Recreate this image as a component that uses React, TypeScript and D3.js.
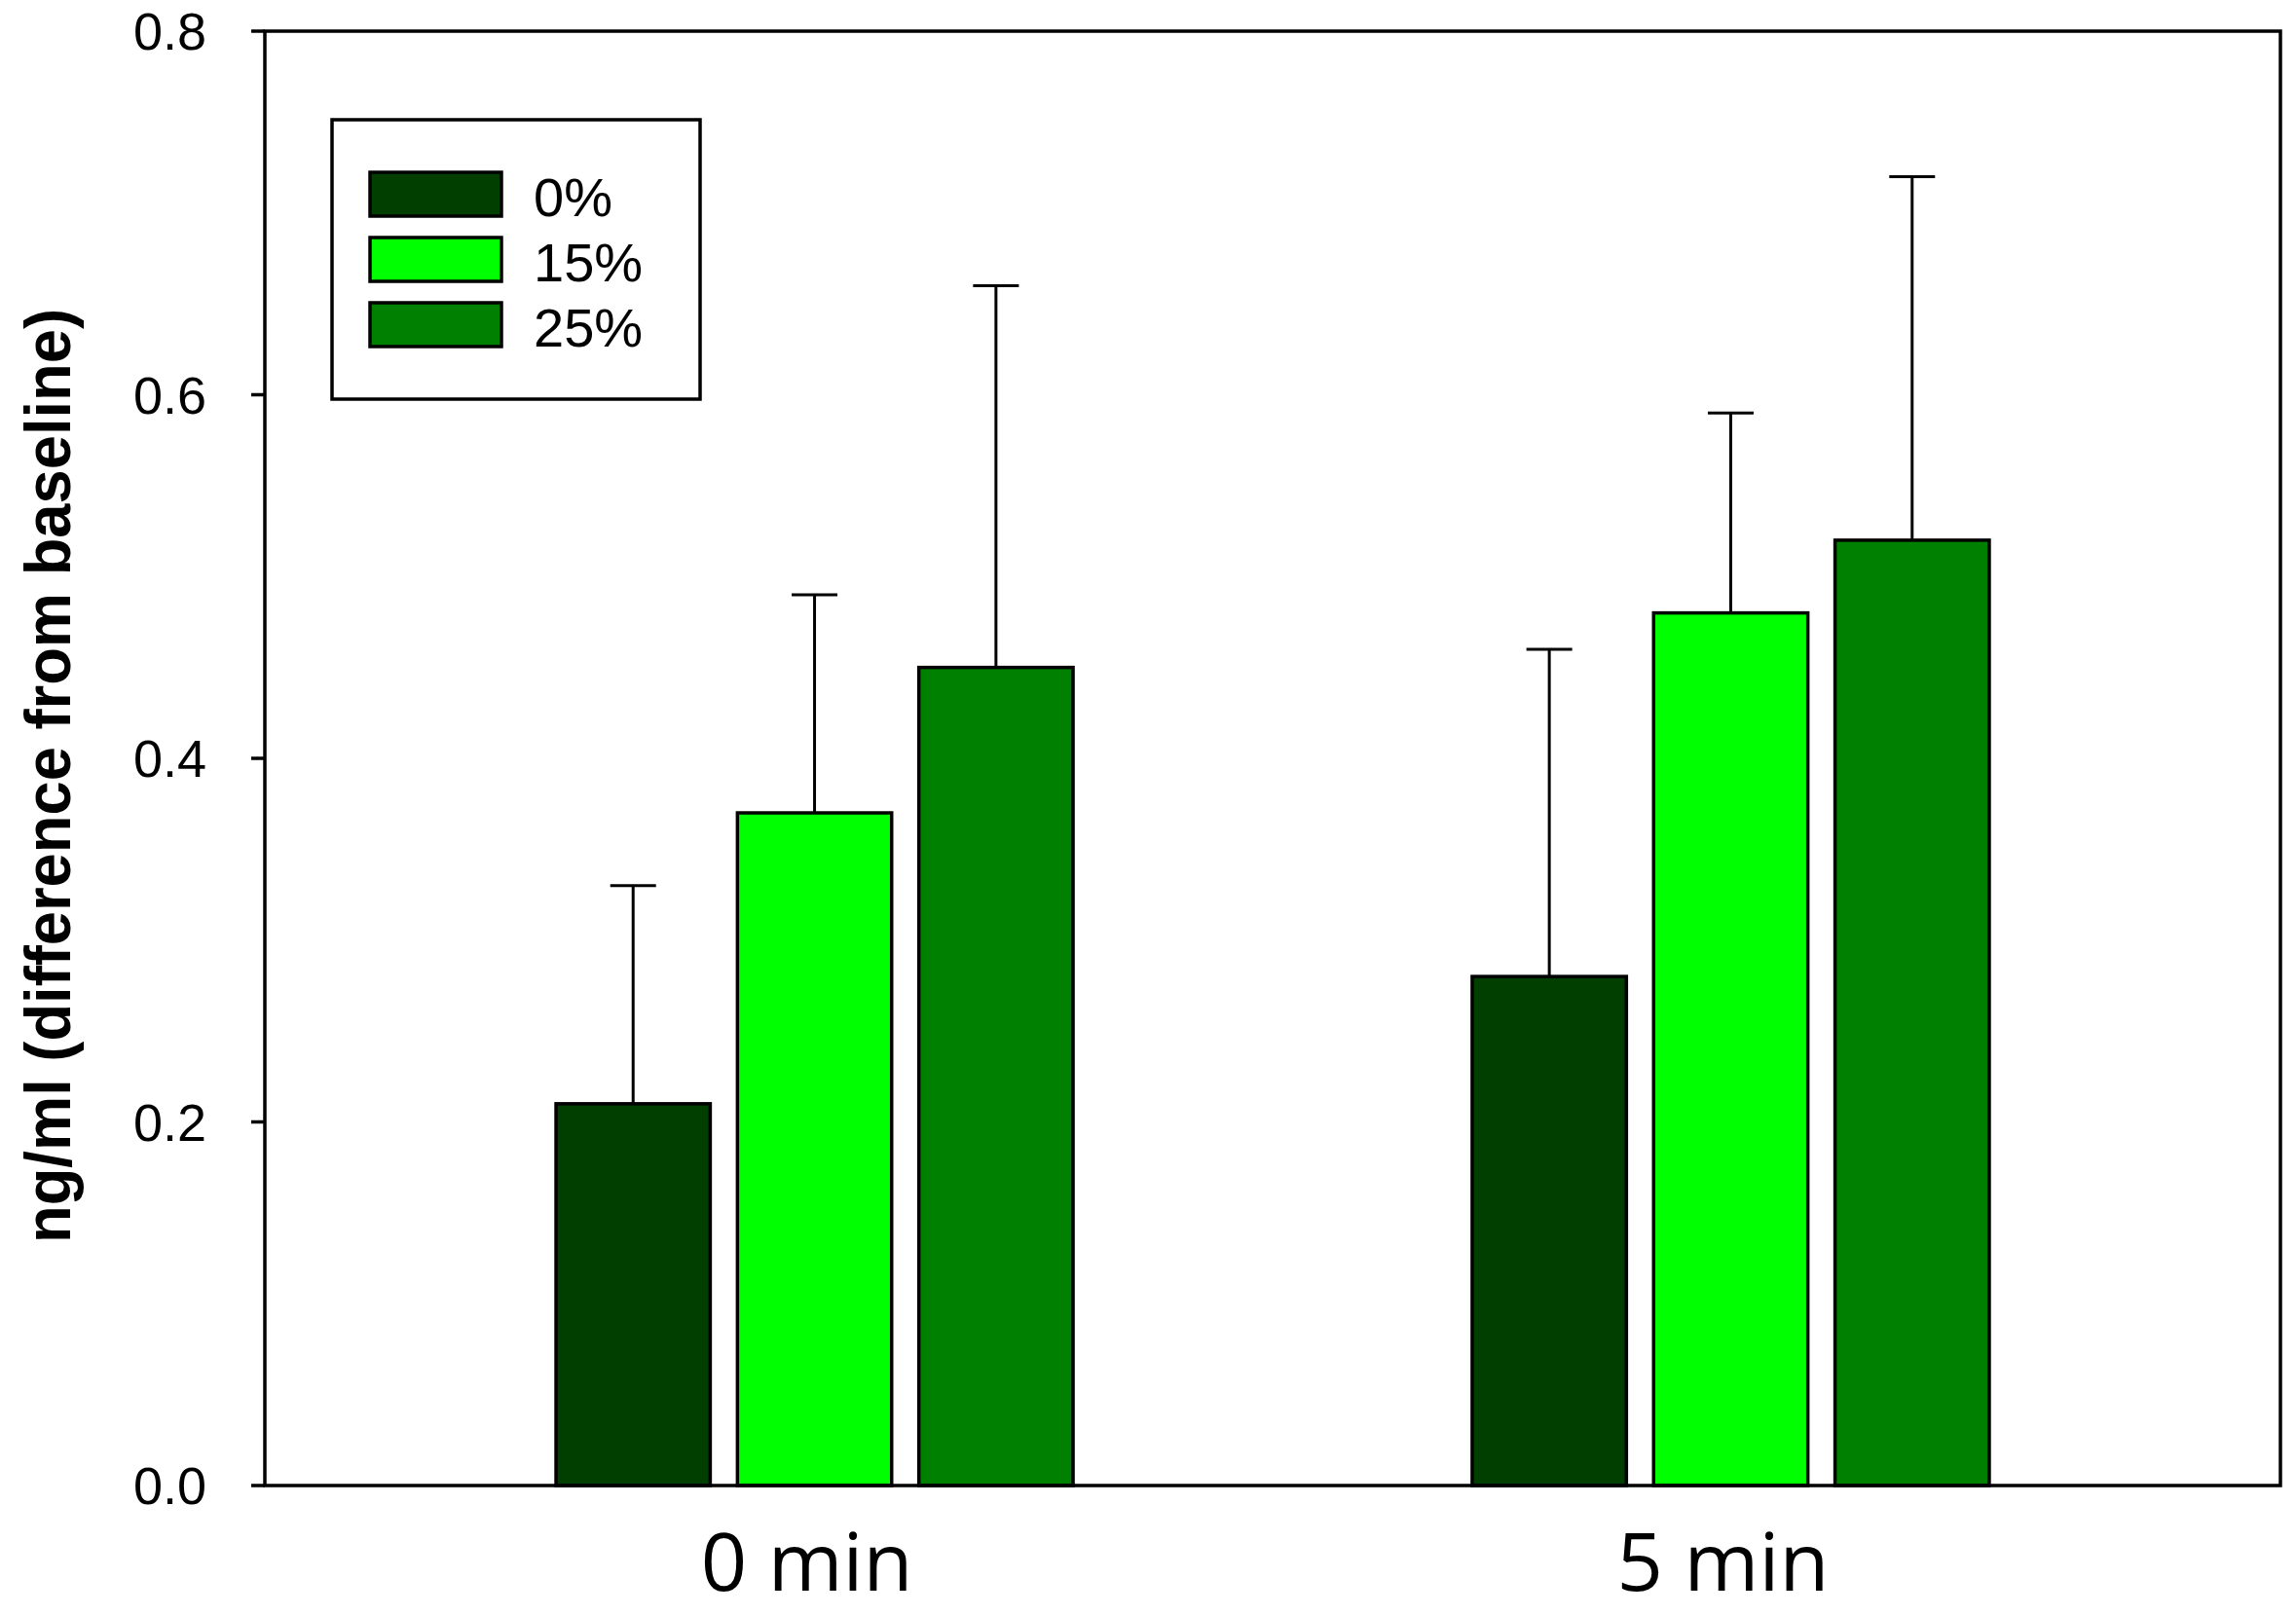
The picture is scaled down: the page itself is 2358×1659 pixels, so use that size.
import { scaleBand, scaleLinear } from "d3";

const categories = ["0 min", "5 min"];
const series = ["0%", "15%", "25%"];
const colors = ["#003f00", "#00ff00", "#008000"];
// mean per series, one value per category
const means = [
  [0.21, 0.28],
  [0.37, 0.48],
  [0.45, 0.52],
];
// upper error bar ends
const upper = [
  [0.33, 0.46],
  [0.49, 0.59],
  [0.66, 0.72],
];
const yTicks = [0, 0.2, 0.4, 0.6, 0.8];

const width = 2358;
const height = 1659;
const plot = { left: 272, right: 2342, top: 32, bottom: 1526 };

export default function App() {
  const yScale = scaleLinear().domain([0, 0.8]).range([plot.bottom, plot.top]);

  const xScale = scaleBand()
    .domain(categories)
    .range([plot.left, plot.right])
    .paddingInner(0)
    .paddingOuter(0.1);

  const xInner = scaleBand()
    .domain(series)
    .range([0, xScale.bandwidth()])
    .paddingInner(0.15)
    .paddingOuter(1.1);

  const bw = xInner.bandwidth();
  const capW = 47;

  return (
    <svg
      width={width}
      height={height}
      style={{ position: "absolute", left: 0, top: 0, background: "#fff" }}
    >
      {/* bars */}
      {series.map((s, si) =>
        categories.map((c, ci) => {
          const x = (xScale(c) ?? 0) + (xInner(s) ?? 0);
          const v = means[si][ci];
          return (
            <rect
              key={s + c}
              x={x}
              y={yScale(v)}
              width={bw}
              height={yScale(0) - yScale(v)}
              fill={colors[si]}
              stroke="#000"
              strokeWidth={3.5}
            />
          );
        })
      )}

      {/* error bars (upper only) */}
      {series.map((s, si) =>
        categories.map((c, ci) => {
          const cx = (xScale(c) ?? 0) + (xInner(s) ?? 0) + bw / 2;
          return (
            <g key={"e" + s + c} stroke="#000" strokeWidth={3}>
              <line x1={cx} x2={cx} y1={yScale(means[si][ci])} y2={yScale(upper[si][ci])} />
              <line
                x1={cx - capW / 2}
                x2={cx + capW / 2}
                y1={yScale(upper[si][ci])}
                y2={yScale(upper[si][ci])}
              />
            </g>
          );
        })
      )}

      {/* frame */}
      <rect
        x={plot.left}
        y={plot.top}
        width={plot.right - plot.left}
        height={plot.bottom - plot.top}
        fill="none"
        stroke="#000"
        strokeWidth={3.5}
      />

      {/* y axis ticks and labels */}
      {yTicks.map((t) => (
        <g key={t} transform={`translate(0, ${yScale(t)})`}>
          <line x1={plot.left - 14} x2={plot.left} stroke="#000" strokeWidth={3.5} />
          <text
            x={212}
            dy="0.36em"
            textAnchor="end"
            fontFamily="'Liberation Sans', Arial, sans-serif"
            fontSize={54}
            fill="#000"
          >
            {t.toFixed(1)}
          </text>
        </g>
      ))}

      {/* y axis title */}
      <text
        transform={`translate(72, 797) rotate(-90)`}
        textAnchor="middle"
        fontFamily="'Liberation Sans', Arial, sans-serif"
        fontWeight="bold"
        fontSize={66}
        textLength={960}
        lengthAdjust="spacingAndGlyphs"
        fill="#000"
      >
        ng/ml (difference from baseline)
      </text>

      {/* x category labels */}
      {categories.map((c) => (
        <text
          key={c}
          x={(xScale(c) ?? 0) + xScale.bandwidth() / 2 - 8}
          y={1634}
          textAnchor="middle"
          fontFamily="'Open Sans', sans-serif"
          fontSize={83}
          fill="#000"
        >
          {c}
        </text>
      ))}

      {/* legend */}
      <g>
        <rect x={341} y={123} width={378} height={287} fill="#fff" stroke="#000" strokeWidth={3.5} />
        {series.map((s, i) => (
          <g key={s} transform={`translate(380, ${177 + i * 67})`}>
            <rect width={135} height={45} fill={colors[i]} stroke="#000" strokeWidth={3.5} />
            <text
              x={168}
              y={45}
              fontFamily="'Liberation Sans', Arial, sans-serif"
              fontSize={56}
              fill="#000"
            >
              {s}
            </text>
          </g>
        ))}
      </g>
    </svg>
  );
}
